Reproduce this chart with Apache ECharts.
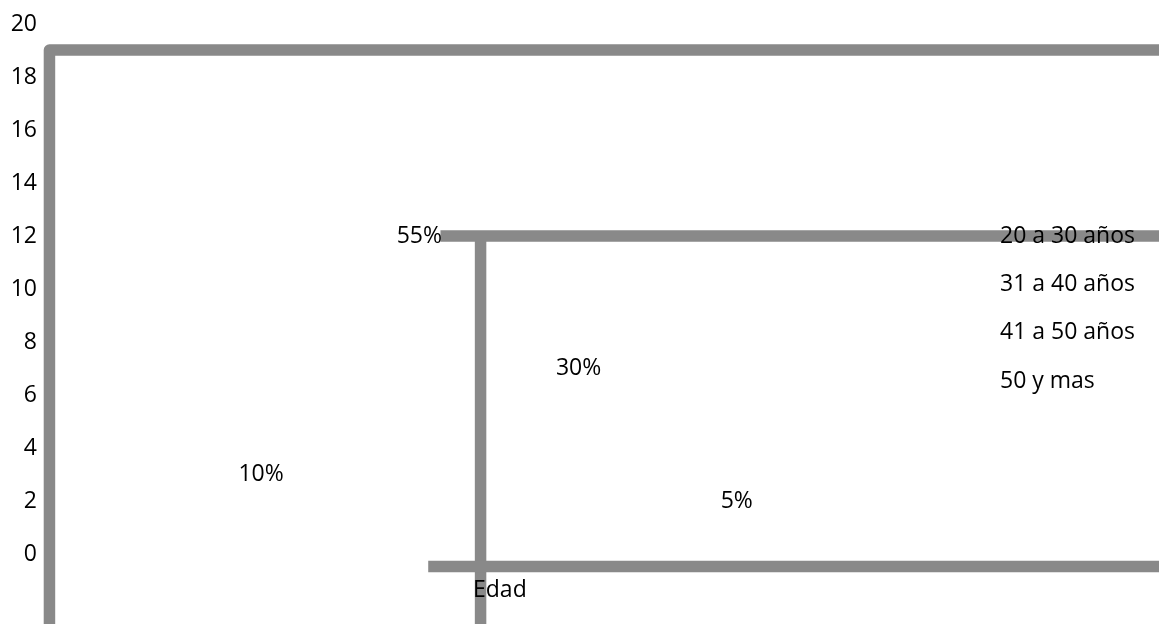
<!DOCTYPE html>
<html>
<head>
<meta charset="utf-8">
<script src="https://cdn.jsdelivr.net/npm/echarts@6/dist/echarts.min.js"></script>
<style>html,body{margin:0;padding:0;background:#fff}#c{width:1159px;height:624px}</style>
</head>
<body>
<div id="c"></div>
<script>
// Data
var categories = ['20 a 30 años', '31 a 40 años', '41 a 50 años', '50 y mas'];
var percentLabels = ['55%', '30%', '10%', '5%'];
// label anchor positions (x on hidden 0-100 scale, y on 0-20 axis)
var labelX = [33.6, 47.9, 19.4, 62.1];
var labelY = [12, 7, 3, 2];
var yTicks = [0, 2, 4, 6, 8, 10, 12, 14, 16, 18, 20];
var axisName = 'Edad';
// gray frame strokes (data units)
var frameOuter = [[0.4, -3], [0.4, 19.02], [100, 19.02]];
var frameInnerH = [[35.5, 12], [100, 12]];
var frameInnerV = [[39.1, 12], [39.1, -3]];
var frameBottom = [[34.4, -0.47], [100, -0.47]];

var FONT = 'Open Sans';
var FS = 23;
var GRAY = '#898989';

function frame(d) {
  return {
    type: 'line', data: d, symbol: 'none', silent: true, clip: false,
    lineStyle: { color: GRAY, width: 11.5, cap: 'butt', join: 'round' },
    z: 1, legendHoverLink: false
  };
}

var series = [frame(frameOuter), frame(frameInnerH), frame(frameInnerV), frame(frameBottom)];
categories.forEach(function (c, i) {
  series.push({
    name: c, type: 'scatter', symbolSize: 0, clip: false, z: 5,
    itemStyle: { opacity: 1 },
    data: [[labelX[i], labelY[i]]],
    label: {
      show: true, position: 'inside', formatter: percentLabels[i],
      color: '#000', opacity: 1, fontFamily: FONT, fontSize: FS
    }
  });
});

var chart = echarts.init(document.getElementById('c'));
chart.setOption({
  animation: false,
  backgroundColor: '#fff',
  grid: { left: 45, right: 0, top: 24, bottom: 70 },
  xAxis: { type: 'value', min: 0, max: 100, show: false },
  yAxis: {
    type: 'value', min: yTicks[0], max: yTicks[yTicks.length - 1], interval: 2,
    axisLine: { show: false }, axisTick: { show: false }, splitLine: { show: false },
    axisLabel: { color: '#000', fontFamily: FONT, fontSize: FS, margin: 8 }
  },
  legend: {
    data: categories, orient: 'vertical', left: 995, top: 224, padding: 0,
    icon: 'none', itemWidth: 0, itemHeight: 14, itemGap: 24,
    textStyle: { color: '#000', fontFamily: FONT, fontSize: FS, lineHeight: 24.3 },
    selectedMode: false
  },
  title: {
    text: axisName, left: 473, top: 575, padding: 0,
    textStyle: { color: '#000', fontFamily: FONT, fontSize: FS, fontWeight: 'normal', lineHeight: 30 }
  },
  series: series
});
</script>
</body>
</html>
